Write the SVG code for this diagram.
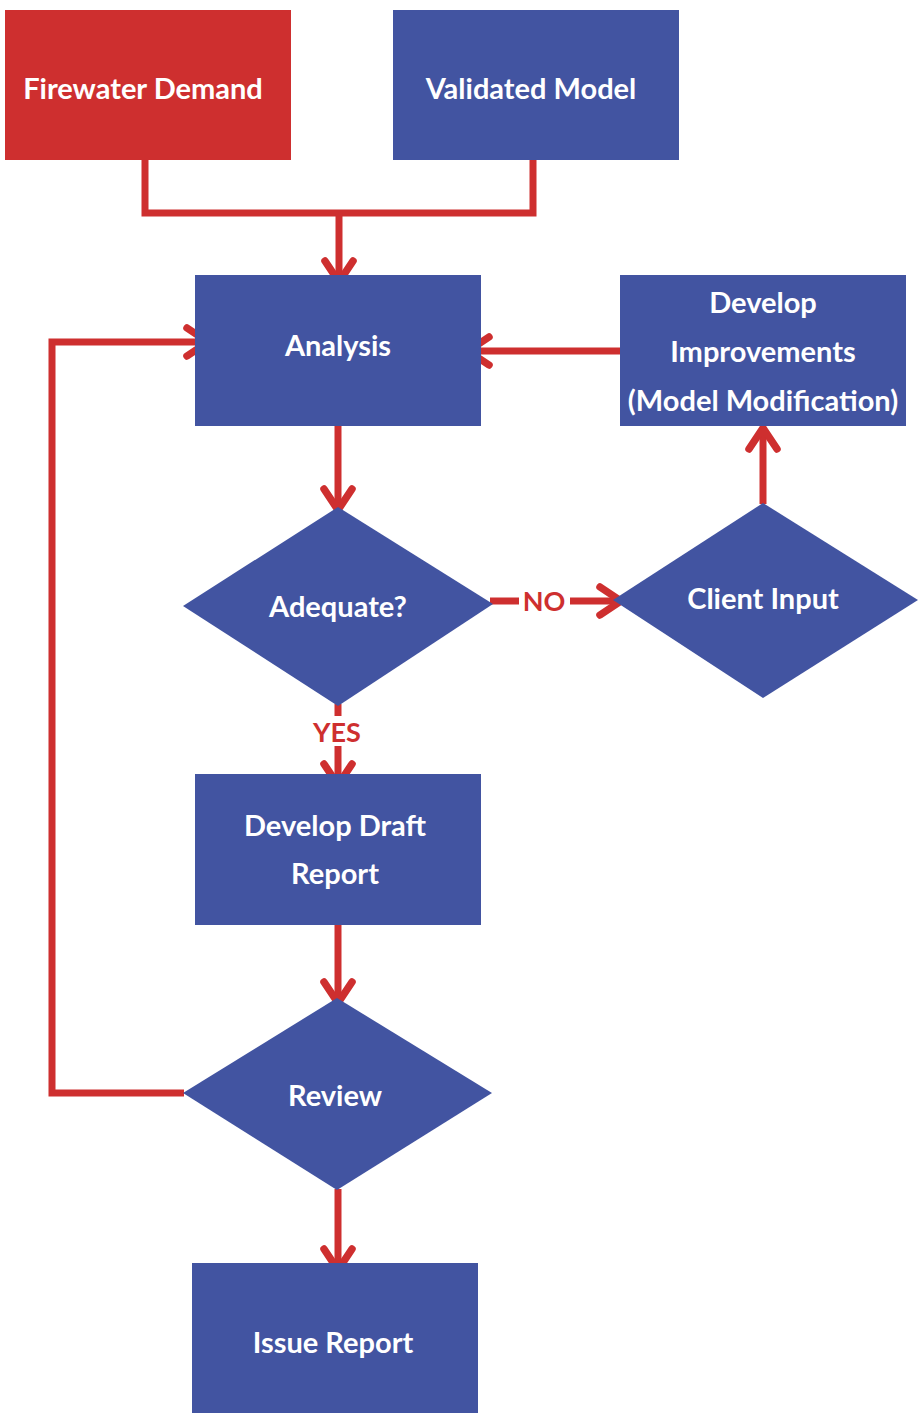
<svg xmlns="http://www.w3.org/2000/svg" width="920" height="1413" viewBox="0 0 920 1413">
<defs>
<style>
.box{fill:#4254a1}
.red{fill:#ce2f2f}
.t{font-family:Lato,"Liberation Sans",sans-serif;font-weight:bold;font-size:29px;fill:#ffffff;text-anchor:middle;dominant-baseline:central}
.lbl{font-family:Lato,"Liberation Sans",sans-serif;font-weight:bold;font-size:27px;fill:#ce2f2f;text-anchor:middle;dominant-baseline:central}
.c{fill:none;stroke:#ce2f2f;stroke-width:7}
.a{marker-end:url(#arr)}
</style>
<marker id="arr" markerUnits="userSpaceOnUse" viewBox="-30 -20 40 40" markerWidth="40" markerHeight="40" refX="-4" refY="0" orient="auto" overflow="visible">
<path d="M-21 -14 L0 0 L-21 14" fill="none" stroke="#ce2f2f" stroke-width="7.5" stroke-linecap="round" stroke-linejoin="round"/>
</marker>
</defs>
<rect width="920" height="1413" fill="#ffffff"/>
<g id="connectors">
<path class="c" d="M145 160 V213 H533 V155"/>
<path class="c a" d="M339 213 V278"/>
<path class="c a" d="M338 426 V506"/>
<path class="c" d="M338 704 V716"/>
<path class="c a" d="M338 746 V781"/>
<path class="c a" d="M338 925 V999"/>
<path class="c a" d="M338 1189 V1266"/>
<path class="c a" d="M184 1093 H52 V342 H204"/>
<path class="c a" d="M621 351 H472"/>
<path class="c a" d="M763 504 V432"/>
<path class="c" d="M490 601 H519"/>
<path class="c a" d="M570 601 H617"/>
<text class="lbl" x="544" y="600">NO</text>
<text class="lbl" x="337" y="731">YES</text>
</g>
<g id="firewater-demand">
<rect class="red" x="5" y="10" width="286" height="150"/>
<text class="t" x="143" y="87">Firewater Demand</text>
</g>
<g id="validated-model">
<rect class="box" x="393" y="10" width="286" height="150"/>
<text class="t" x="531" y="87">Validated Model</text>
</g>
<g id="analysis">
<rect class="box" x="195" y="275" width="286" height="151"/>
<text class="t" x="338" y="344">Analysis</text>
</g>
<g id="develop-improvements">
<rect class="box" x="620" y="275" width="286" height="151"/>
<text class="t" x="763" y="301">Develop</text>
<text class="t" x="763" y="350">Improvements</text>
<text class="t" x="763" y="399">(Model Modification)</text>
</g>
<g id="adequate">
<polygon class="box" points="338,507 493,604 338,706 183,606"/>
<text class="t" x="338" y="605">Adequate?</text>
</g>
<g id="client-input">
<polygon class="box" points="763,503 918,600 763,698 613,600"/>
<text class="t" x="763" y="597">Client Input</text>
</g>
<g id="develop-draft-report">
<rect class="box" x="195" y="774" width="286" height="151"/>
<text class="t" x="335" y="824">Develop Draft</text>
<text class="t" x="335" y="872">Report</text>
</g>
<g id="review">
<polygon class="box" points="337,998 492,1093 337,1190 183,1093"/>
<text class="t" x="335" y="1094">Review</text>
</g>
<g id="issue-report">
<rect class="box" x="192" y="1263" width="286" height="150"/>
<text class="t" x="333" y="1341">Issue Report</text>
</g>
</svg>
